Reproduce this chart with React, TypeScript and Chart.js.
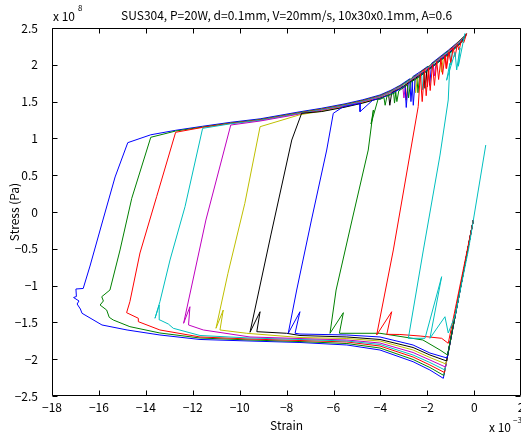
import React, { useEffect, useRef } from 'react';
import { Chart, registerables } from 'chart.js';

Chart.register(...registerables);

const TITLE = 'SUS304, P=20W, d=0.1mm, V=20mm/s, 10x30x0.1mm, A=0.6';
const X_LABEL = 'Strain';
const Y_LABEL = 'Stress (Pa)';
const X_EXP = '\u22123';
const Y_EXP = '8';
const X_MIN = -18;
const X_MAX = 2;
const X_STEP = 2;
const Y_MIN = -2.5;
const Y_MAX = 2.5;
const Y_STEP = 0.5;

const LOOP_COLORS = ['#0000FF', '#008000', '#FF0000', '#00BFBF', '#BF00BF', '#BFBF00', '#000000', '#0000FF', '#008000', '#FF0000', '#00BFBF'];

// [strain (x1e-3), stress (x1e8 Pa)]
const loop1 = [
  [-0.04, -0.11], [-1.32, -2.26], [-1.89, -2.147], [-2.61, -2.034], [-4.02, -1.875], [-5.43, -1.807],
  [-7.43, -1.773], [-9.56, -1.753], [-11.69, -1.732], [-13.4, -1.671], [-14.8, -1.603], [-15.87, -1.535],
  [-16.72, -1.376], [-16.79, -1.318], [-16.93, -1.25], [-16.85, -1.209], [-17.08, -1.162], [-16.96, -1.148],
  [-16.98, -1.046], [-16.67, -1.039], [-16.38, -0.734], [-15.83, -0.109], [-15.31, 0.476], [-14.77, 0.942],
  [-13.79, 1.049], [-12.73, 1.11], [-11.58, 1.165], [-10.38, 1.219], [-9.13, 1.266], [-7.43, 1.362],
  [-6.5, 1.41], [-5.51, 1.47], [-4.75, 1.525], [-4.02, 1.59], [-3.55, 1.655], [-3.17, 1.72], [-2.75, 1.81],
  [-2.7, 1.5], [-2.62, 1.84], [-2.31, 1.905], [-1.98, 1.98], [-1.9, 1.72], [-1.82, 2.02], [-1.46, 2.11],
  [-1.1, 2.2], [-0.82, 2.275], [-0.55, 2.35], [-0.34, 2.42],
];
const loop2 = [
  [-0.04, -0.11], [-1.3, -2.221], [-1.89, -2.113], [-2.61, -2.004], [-4.02, -1.848], [-5.43, -1.787],
  [-7.43, -1.76], [-9.56, -1.739], [-11.69, -1.712], [-13.4, -1.644], [-14.68, -1.558], [-15.39, -1.467],
  [-15.56, -1.431], [-15.67, -1.332], [-15.95, -1.264], [-15.81, -1.209], [-15.88, -1.151], [-15.53, -1.06],
  [-15.1, -0.516], [-14.6, 0.186], [-13.79, 1.015],
  [-12.73, 1.1], [-11.58, 1.155], [-10.38, 1.209], [-9.13, 1.256], [-7.43, 1.352], [-6.5, 1.4], [-5.51, 1.46],
  [-4.75, 1.515], [-4.02, 1.58], [-3.55, 1.645], [-3.45, 1.665], [-3.4, 1.48], [-3.32, 1.69], [-3.17, 1.71],
  [-2.75, 1.8], [-2.45, 1.865], [-2.4, 1.62], [-2.32, 1.895], [-1.9, 1.99], [-1.46, 2.1], [-1.1, 2.19],
  [-0.82, 2.27], [-0.55, 2.35], [-0.33, 2.425],
];
const loop3 = [
  [-0.04, -0.11], [-1.27, -2.181], [-1.89, -2.079], [-2.61, -1.97], [-4.02, -1.821], [-5.43, -1.766],
  [-7.43, -1.746], [-9.56, -1.726], [-11.69, -1.698], [-13.4, -1.603], [-14.32, -1.49], [-14.32, -1.444],
  [-14.82, -1.368], [-14.68, -1.219], [-14.25, -0.557], [-13.54, 0.208], [-12.73, 1.083],
  [-11.58, 1.15], [-10.38, 1.204], [-9.13, 1.251], [-7.43, 1.347], [-6.5, 1.395], [-5.51, 1.455],
  [-4.75, 1.51], [-4.02, 1.575], [-3.55, 1.64], [-3.17, 1.705], [-2.95, 1.75], [-2.9, 1.52], [-2.82, 1.775],
  [-2.31, 1.89], [-2.05, 1.95], [-2.0, 1.7], [-1.92, 1.98], [-1.46, 2.095], [-1.25, 2.145], [-1.2, 1.95],
  [-1.12, 2.18], [-0.82, 2.265], [-0.55, 2.345], [-0.32, 2.43],
];
const loop4 = [
  [-0.04, -0.11], [-1.25, -2.147], [-1.89, -2.045], [-2.61, -1.943], [-4.02, -1.8], [-5.43, -1.753],
  [-7.43, -1.732], [-9.56, -1.712], [-11.69, -1.678], [-12.83, -1.58], [-13.04, -1.522], [-13.4, -1.467],
  [-13.43, -1.264], [-13.61, -1.444], [-13.4, -1.219], [-12.97, -0.652], [-12.33, 0.072], [-11.58, 1.137],
  [-10.38, 1.199], [-9.13, 1.246], [-7.43, 1.342], [-6.5, 1.39], [-5.51, 1.45], [-4.75, 1.505], [-4.02, 1.57],
  [-3.55, 1.635], [-3.17, 1.7], [-2.75, 1.79], [-2.31, 1.885], [-2.25, 1.9], [-2.2, 1.66], [-2.12, 1.92],
  [-1.9, 1.98], [-1.46, 2.09], [-1.1, 2.18], [-1.05, 2.19], [-1.0, 2.0], [-0.92, 2.23], [-0.82, 2.26],
  [-0.55, 2.34], [-0.32, 2.432],
];
const loop5 = [
  [-0.04, -0.11], [-1.23, -2.106], [-1.89, -2.011], [-2.61, -1.909], [-4.02, -1.78], [-5.43, -1.739],
  [-7.43, -1.719], [-9.56, -1.698], [-11.55, -1.603], [-12.18, -1.535], [-12.12, -1.287], [-12.39, -1.512],
  [-11.44, -0.109], [-10.38, 1.182],
  [-9.13, 1.236], [-7.43, 1.332], [-6.5, 1.38], [-5.51, 1.44], [-4.75, 1.495], [-4.02, 1.56], [-3.55, 1.625],
  [-3.17, 1.69], [-3.05, 1.715], [-3.0, 1.55], [-2.92, 1.745], [-2.75, 1.78], [-2.31, 1.875], [-1.9, 1.97],
  [-1.75, 2.01], [-1.7, 1.85], [-1.62, 2.04], [-1.46, 2.08], [-1.1, 2.17], [-0.82, 2.25], [-0.55, 2.33],
  [-0.32, 2.43],
];
const loop6 = [
  [-0.04, -0.11], [-1.21, -2.065], [-1.89, -1.977], [-2.61, -1.875], [-4.02, -1.753], [-5.43, -1.719],
  [-7.43, -1.705], [-9.7, -1.648], [-10.84, -1.603], [-10.7, -1.332], [-11.01, -1.58], [-10.5, -0.833],
  [-9.78, 0.118], [-9.13, 1.159],
  [-7.43, 1.322], [-6.5, 1.37], [-5.51, 1.43], [-4.75, 1.485], [-4.02, 1.55], [-3.55, 1.615], [-3.17, 1.68],
  [-2.75, 1.77], [-2.55, 1.81], [-2.5, 1.62], [-2.42, 1.84], [-2.31, 1.865], [-1.9, 1.96], [-1.45, 2.07],
  [-1.4, 1.9], [-1.32, 2.1], [-1.1, 2.16], [-0.82, 2.24], [-0.55, 2.32], [-0.33, 2.425],
];
const loop7 = [
  [-0.04, -0.11], [-1.18, -2.024], [-1.89, -1.943], [-2.61, -1.841], [-4.02, -1.732], [-5.43, -1.698],
  [-7.43, -1.678], [-8.0, -1.648], [-9.27, -1.626], [-9.13, -1.355], [-9.56, -1.634], [-8.67, -0.312],
  [-7.78, 0.978], [-7.36, 1.341],
  [-6.5, 1.365], [-5.51, 1.425], [-4.75, 1.48], [-4.02, 1.545], [-3.65, 1.59], [-3.6, 1.45], [-3.52, 1.62],
  [-3.17, 1.675], [-2.75, 1.765], [-2.31, 1.86], [-2.15, 1.9], [-2.1, 1.68], [-2.02, 1.925], [-1.46, 2.065],
  [-1.1, 2.155], [-0.82, 2.235], [-0.55, 2.315], [-0.33, 2.42],
];
const loop8 = [
  [-0.04, -0.11], [-1.16, -1.984], [-1.89, -1.916], [-2.61, -1.807], [-4.02, -1.698], [-5.43, -1.671],
  [-7.43, -1.658], [-7.64, -1.648], [-7.43, -1.355], [-7.93, -1.648], [-7.57, -1.06], [-6.94, -0.109],
  [-6.29, 0.842], [-6.01, 1.341], [-5.58, 1.431], [-4.87, 1.477], [-4.87, 1.363], [-4.32, 1.522],
  [-4.02, 1.54], [-3.55, 1.605], [-3.17, 1.67], [-2.95, 1.715], [-2.9, 1.42], [-2.82, 1.74], [-2.65, 1.78],
  [-2.6, 1.45], [-2.52, 1.8], [-2.31, 1.855], [-1.9, 1.95], [-1.46, 2.06], [-1.1, 2.15], [-0.82, 2.23],
  [-0.55, 2.31], [-0.34, 2.41],
];
const loop9 = [
  [-0.04, -0.11], [-1.14, -1.943], [-1.46, -1.875], [-2.19, -1.739], [-4.02, -1.648], [-5.75, -1.648],
  [-5.58, -1.368], [-6.15, -1.648], [-5.89, -1.06], [-5.21, -0.109], [-4.52, 0.842], [-4.3, 1.386],
  [-4.4, 1.196], [-4.1, 1.535],
  [-4.02, 1.53], [-3.85, 1.555], [-3.8, 1.45], [-3.72, 1.575], [-3.55, 1.595], [-3.35, 1.625], [-3.3, 1.5],
  [-3.22, 1.645], [-2.85, 1.725], [-2.8, 1.55], [-2.72, 1.76], [-2.31, 1.845], [-1.9, 1.94], [-1.46, 2.05],
  [-1.1, 2.14], [-0.82, 2.22], [-0.55, 2.3], [-0.35, 2.4],
];
const loop10 = [
  [-0.04, -0.11], [-1.11, -1.784], [-1.39, -1.716], [-2.31, -1.685], [-3.17, -1.664], [-3.73, -1.662],
  [-3.52, -1.355], [-4.16, -1.671], [-3.45, -0.516], [-2.39, 1.431],
  [-2.3, 1.877], [-2.22, 1.5], [-2.12, 1.92], [-2.05, 1.58], [-1.95, 1.958], [-1.88, 1.65], [-1.78, 2.0],
  [-1.7, 1.72], [-1.6, 2.045], [-1.52, 1.8], [-1.42, 2.09], [-1.35, 1.87], [-1.25, 2.13], [-1.18, 1.95],
  [-1.08, 2.175], [-1.0, 2.03], [-0.9, 2.227], [-0.82, 2.11], [-0.72, 2.28], [-0.65, 2.2], [-0.55, 2.33],
  [-0.45, 2.3], [-0.33, 2.42],
];
const loop11 = [
  [0.49, 0.91], [-0.25, -0.516], [-0.82, -1.413], [-1.11, -1.644], [-1.25, -1.423], [-1.89, -1.716],
  [-1.39, -0.879], [-2.1, -1.716], [-2.81, -1.716], [-2.17, -0.516], [-1.46, 0.774], [-1.11, 1.522],
  [-1.04, 2.02], [-1.18, 1.79], [-0.82, 2.17], [-0.75, 1.93], [-0.61, 2.23], [-0.68, 1.98], [-0.4, 2.428],
];

const LOOPS = [loop1, loop2, loop3, loop4, loop5, loop6, loop7, loop8, loop9, loop10, loop11];

const FONT = '"Noto Sans CJK JP", "Noto Sans", sans-serif';
const CANVAS_W = 540;
const CANVAS_H = 435;

const fmt = (v: number) => (v < 0 ? '\u2212' : '') + String(Math.abs(Math.round(v * 10) / 10));

const framePlugin = {
  id: 'matlabFrame',
  afterDraw(chart: any) {
    const { ctx, chartArea: a, scales } = chart;
    ctx.save();
    ctx.strokeStyle = '#000';
    ctx.lineWidth = 1;
    const L = Math.round(a.left) + 0.5;
    const R = Math.round(a.right) - 0.5;
    const T = Math.round(a.top) + 0.5;
    const B = Math.round(a.bottom) - 0.5;
    ctx.beginPath();
    ctx.rect(L, T, R - L, B - T);
    ctx.stroke();
    const tl = 5;
    ctx.beginPath();
    for (let v = X_MIN; v <= X_MAX + 1e-9; v += X_STEP) {
      const p = Math.round(scales.x.getPixelForValue(v)) + 0.5;
      ctx.moveTo(p, B); ctx.lineTo(p, B - tl);
      ctx.moveTo(p, T); ctx.lineTo(p, T + tl);
    }
    for (let v = Y_MIN; v <= Y_MAX + 1e-9; v += Y_STEP) {
      const p = Math.round(scales.y.getPixelForValue(v)) + 0.5;
      ctx.moveTo(L, p); ctx.lineTo(L + tl, p);
      ctx.moveTo(R, p); ctx.lineTo(R - tl, p);
    }
    ctx.stroke();

    ctx.fillStyle = '#000';
    ctx.font = `12px ${FONT}`;
    ctx.textAlign = 'center';
    ctx.textBaseline = 'middle';
    ctx.fillText(TITLE, (a.left + a.right) / 2, 15);
    ctx.fillText(X_LABEL, (a.left + a.right) / 2, 425);
    ctx.save();
    ctx.translate(14, (a.top + a.bottom) / 2);
    ctx.rotate(-Math.PI / 2);
    ctx.fillText(Y_LABEL, 0, 0);
    ctx.restore();

    ctx.textAlign = 'left';
    ctx.textBaseline = 'alphabetic';
    ctx.fillText('x 10', 53, 21);
    ctx.fillText('x 10', 489, 432);
    ctx.font = `8px ${FONT}`;
    ctx.fillText(Y_EXP, 78, 11);
    ctx.fillText(X_EXP, 513, 423);
    ctx.restore();
  },
};

export default function App() {
  const ref = useRef<HTMLCanvasElement | null>(null);
  useEffect(() => {
    document.body.style.margin = '0';
    document.body.style.overflow = 'hidden';
    const canvas = ref.current;
    if (!canvas) return;
    const datasets = LOOPS.map((loop, i) => ({
      data: loop.map(([x, y]) => ({ x, y })),
      borderColor: LOOP_COLORS[i],
      backgroundColor: LOOP_COLORS[i],
      borderWidth: 1,
      showLine: true,
      pointRadius: 0,
      tension: 0,
      fill: false,
      order: 100 - i,
    }));
    const chart = new Chart(canvas, {
      type: 'scatter',
      data: { datasets },
      options: {
        animation: false,
        responsive: false,
        events: [],
        layout: { padding: { top: 28, right: CANVAS_W - 521.2, left: 0, bottom: 0 } },
        plugins: { legend: { display: false }, title: { display: false }, tooltip: { enabled: false } },
        scales: {
          x: {
            type: 'linear',
            min: X_MIN,
            max: X_MAX,
            grid: { display: false },
            border: { display: false },
            ticks: { stepSize: X_STEP, autoSkip: false, maxRotation: 0, color: '#000', padding: -4, font: { family: FONT, size: 12 }, callback: (v: any) => fmt(Number(v)) },
            afterFit: (s: any) => { s.height = 39; },
          },
          y: {
            type: 'linear',
            min: Y_MIN,
            max: Y_MAX,
            grid: { display: false },
            border: { display: false },
            ticks: { stepSize: Y_STEP, autoSkip: false, color: '#000', padding: 6, font: { family: FONT, size: 12 }, callback: (v: any) => fmt(Number(v)) },
            afterFit: (s: any) => { s.width = 52; },
          },
        },
      } as any,
      plugins: [framePlugin],
    });
    return () => chart.destroy();
  }, []);
  return (
    <div style={{ position: 'fixed', left: 0, top: 0, width: CANVAS_W, height: CANVAS_H, background: '#fff' }}>
      <canvas ref={ref} width={CANVAS_W} height={CANVAS_H} style={{ display: 'block', width: CANVAS_W, height: CANVAS_H }} />
    </div>
  );
}
